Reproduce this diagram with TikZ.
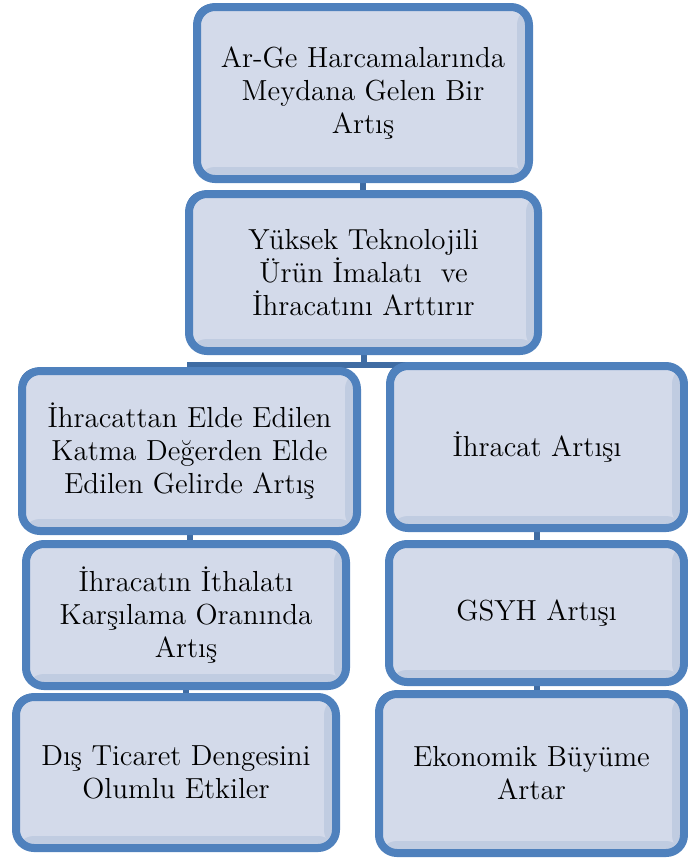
\documentclass[tikz,border=0pt]{standalone}
\usetikzlibrary{positioning,shadows,backgrounds}
\definecolor{frameblue}{RGB}{79,129,189}
\definecolor{framedark}{RGB}{63,108,163}
\definecolor{boxfill}{RGB}{211,218,234}
\definecolor{boxedge}{RGB}{192,204,225}

\begin{document}
\begin{tikzpicture}[
      x=0.5pt, y=-0.5pt,
      font=\fontsize{14.5}{16.5}\selectfont,
      blk/.style={rectangle, rounded corners=9pt, draw=frameblue, line width=4pt,
                  fill=boxfill, align=center, inner sep=0pt,
                  drop shadow={shadow xshift=-1.5pt, shadow yshift=1.5pt,
                               fill=framedark, opacity=1},
                  path picture={
                    \fill[boxedge] ([yshift=6pt]path picture bounding box.south west)
                      rectangle (path picture bounding box.south east);
                    \fill[boxedge] ([xshift=-6pt]path picture bounding box.south east)
                      rectangle (path picture bounding box.north east);}},
      conn/.style={framedark, line width=3pt},
    ]
    \useasboundingbox (0,0) rectangle (688,859);
    % top chain
    \node[blk, minimum width=166pt, minimum height=86pt] (b1) at (363,93)
      {Ar-Ge Harcamalarında\\ Meydana Gelen Bir\\ Artış};
    \node[blk, minimum width=174.5pt, minimum height=78.5pt] (b2) at (363.5,272.5)
      {Yüksek Teknolojili\\ Ürün İmalatı~ ve\\ İhracatını Arttırır};
    % left column
    \node[blk, minimum width=167.5pt, minimum height=80pt] (b3) at (189.5,451)
      {İhracattan Elde Edilen\\ Katma Değerden Elde\\ Edilen Gelirde Artış};
    \node[blk, minimum width=160pt, minimum height=71pt] (b5) at (186,615)
      {İhracatın İthalatı\\ Karşılama Oranında\\ Artış};
    \node[blk, minimum width=160pt, minimum height=75.5pt] (b7) at (176,772.5)
      {Dış Ticaret Dengesini\\ Olumlu Etkiler};
    % right column
    \node[blk, minimum width=147pt, minimum height=81pt] (b4) at (537,447)
      {İhracat Artışı};
    \node[blk, minimum width=147.5pt, minimum height=69pt] (b6) at (536.5,613)
      {GSYH Artışı};
    \node[blk, minimum width=152.5pt, minimum height=79.5pt] (b8) at (531.5,773.5)
      {Ekonomik Büyüme\\ Artar};
    \begin{scope}[on background layer]
      \draw[conn] (b1.south) -- (b1.south |- b2.north);
      \draw[conn] (b2.south) -- ++(0,10) -| (b3.north);
      \draw[conn] (b2.south) -- ++(0,10) -| (b4.north);
      \draw[conn] (b3.south) -- (b3.south |- b5.north);
      \draw[conn] (b5.south) -- (b5.south |- b7.north);
      \draw[conn] (b4.south) -- (b4.south |- b6.north);
      \draw[conn] (b6.south) -- (b6.south |- b8.north);
    \end{scope}
  \end{tikzpicture}
\end{document}
